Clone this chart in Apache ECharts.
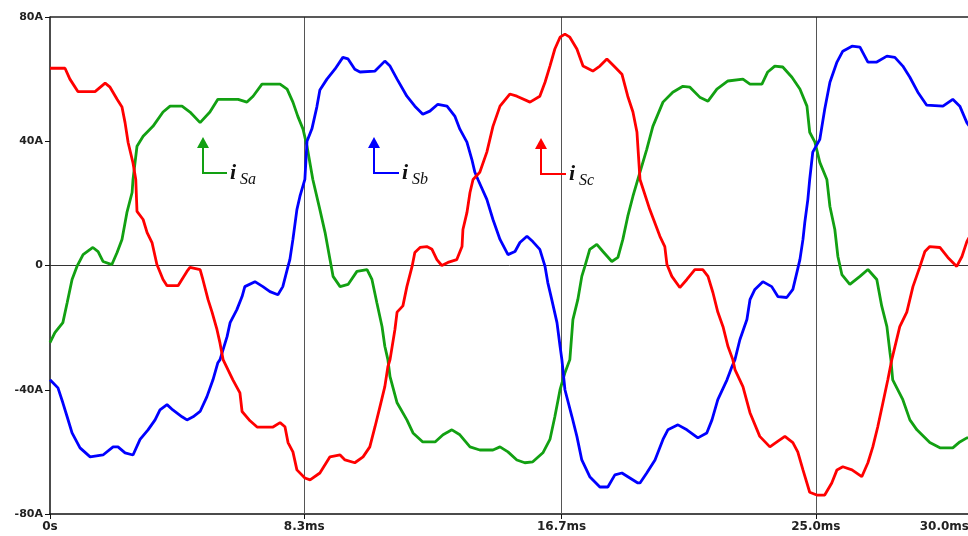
<!DOCTYPE html>
<html>
<head>
<meta charset="utf-8">
<script src="https://cdn.jsdelivr.net/npm/echarts@6/dist/echarts.min.js"></script>
<style>html,body{margin:0;padding:0;background:#fff}#c{width:968px;height:536px}</style>
</head>
<body>
<div id="c"></div>
<script>
// x ticks (ms) and labels
const timeTicks = [0, 8.3, 16.7, 25, 30];
const timeTickLabels = ['0s', '8.3ms', '16.7ms', '25.0ms', '30.0ms'];
const currentTicks = [-80, -40, 0, 40, 80];

// i_Sa (green): [time ms, current A]
const greenSa = [[0,-24.8],[0.16,-21.6],[0.42,-18.4],[0.56,-12],[0.72,-4.5],[0.88,-0.3],[1.08,3.5],[1.40,5.8],[1.57,4.5],[1.73,1.3],[2.02,0.3],[2.19,4.2],[2.35,8.4],[2.51,17],[2.68,23.5],[2.71,27.7],[2.84,38.4],[3.04,41.6],[3.36,44.8],[3.69,49.4],[3.92,51.3],[4.31,51.3],[4.57,49.4],[4.90,46],[5.22,49.4],[5.48,53.5],[6.14,53.5],[6.43,52.6],[6.63,54.5],[6.92,58.4],[7.51,58.4],[7.74,56.8],[7.93,52.6],[8.09,48],[8.26,43.9],[8.39,38.4],[8.58,27.7],[8.81,18],[8.98,10.6],[9.14,1.9],[9.24,-3.5],[9.47,-6.8],[9.73,-6.1],[10.02,-1.9],[10.35,-1.3],[10.51,-4.5],[10.67,-12],[10.84,-19.7],[10.93,-26],[11.03,-30.3],[11.10,-35.8],[11.33,-44.2],[11.65,-49.7],[11.85,-53.9],[12.17,-56.8],[12.57,-56.8],[12.83,-54.5],[13.12,-52.9],[13.38,-54.5],[13.71,-58.4],[14.03,-59.4],[14.46,-59.4],[14.69,-58.4],[14.95,-60],[15.24,-62.6],[15.50,-63.5],[15.76,-63.2],[16.09,-60.3],[16.32,-56],[16.48,-48.7],[16.65,-40],[16.81,-34.5],[16.97,-30.3],[17.07,-17.4],[17.23,-11],[17.36,-3.5],[17.46,-0.3],[17.62,5.2],[17.85,6.8],[18.05,4.5],[18.34,1.3],[18.54,2.6],[18.70,8.4],[18.86,15.8],[19.03,22.3],[19.19,27.7],[19.48,37.4],[19.68,44.8],[20.01,52.6],[20.33,55.8],[20.66,57.7],[20.89,57.4],[21.21,54.2],[21.48,52.9],[21.77,56.8],[22.13,59.4],[22.62,60],[22.85,58.4],[23.24,58.4],[23.43,62.3],[23.66,64.2],[23.92,63.9],[24.22,60.6],[24.48,56.8],[24.71,51.3],[24.80,42.9],[24.97,39.7],[25.13,33.2],[25.36,27.7],[25.46,19],[25.62,11.6],[25.72,2.9],[25.85,-2.9],[26.11,-6.1],[26.44,-3.5],[26.70,-1.3],[26.99,-4.5],[27.15,-13],[27.32,-19.7],[27.42,-28],[27.45,-30.3],[27.51,-36.8],[27.84,-43.2],[28.07,-49.7],[28.30,-52.9],[28.72,-57],[29.05,-58.7],[29.47,-58.7],[29.70,-56.8],[29.93,-55.5],[30,-55.5]];

// i_Sb (blue)
const blueSb = [[0,-36.8],[0.26,-39.4],[0.42,-44.2],[0.56,-48.7],[0.72,-53.9],[0.98,-58.7],[1.31,-61.6],[1.73,-61],[2.06,-58.4],[2.22,-58.4],[2.45,-60.3],[2.71,-61],[2.94,-56],[3.20,-52.9],[3.43,-49.7],[3.59,-46.5],[3.82,-44.8],[4.01,-46.5],[4.31,-48.7],[4.47,-49.7],[4.67,-48.7],[4.90,-47],[5.12,-42.3],[5.32,-36.8],[5.48,-31.3],[5.55,-30.3],[5.78,-22.9],[5.88,-18.4],[6.10,-14.2],[6.27,-10],[6.36,-6.8],[6.69,-5.2],[6.95,-6.8],[7.18,-8.4],[7.44,-9.4],[7.60,-6.8],[7.77,-0.3],[7.83,1.9],[7.93,8.4],[8.06,18],[8.16,22.3],[8.32,27.7],[8.39,40],[8.55,44],[8.71,51],[8.81,56.5],[9.04,60],[9.30,63.2],[9.56,67],[9.73,66.5],[9.95,63.2],[10.12,62.3],[10.61,62.6],[10.93,65.8],[11.10,64.2],[11.33,60],[11.65,54.5],[11.91,51.3],[12.17,48.7],[12.40,49.7],[12.66,51.9],[12.96,51.3],[13.22,48],[13.38,43.9],[13.61,39.7],[13.77,34.2],[13.87,30],[13.97,27.7],[14.26,21.3],[14.46,14.8],[14.69,8.4],[14.95,3.5],[15.18,4.5],[15.34,7.4],[15.57,9.4],[15.76,7.7],[15.99,5.2],[16.16,-0.3],[16.25,-5.5],[16.38,-11],[16.55,-18.4],[16.65,-26],[16.71,-30.3],[16.81,-40],[17.04,-48.7],[17.20,-55],[17.36,-62.6],[17.62,-68],[17.95,-71.3],[18.21,-71.3],[18.44,-67.4],[18.67,-66.8],[18.93,-68.4],[19.19,-70],[19.26,-70],[19.48,-66.8],[19.75,-62.6],[20.01,-56],[20.17,-52.9],[20.50,-51.3],[20.79,-52.9],[21.15,-55.5],[21.44,-53.9],[21.61,-49.7],[21.80,-43.2],[22.10,-36.8],[22.26,-32.6],[22.36,-30.3],[22.52,-23.9],[22.75,-17.4],[22.85,-11],[23.01,-7.7],[23.27,-5.2],[23.56,-6.8],[23.76,-10],[24.05,-10.3],[24.25,-7.7],[24.38,-2.3],[24.48,1.9],[24.58,8.4],[24.64,13.9],[24.74,21.3],[24.80,27.7],[24.90,36.5],[25.13,40.6],[25.29,50.3],[25.46,59],[25.69,65.5],[25.88,69],[26.18,70.6],[26.44,70.3],[26.70,65.5],[26.99,65.5],[27.32,67.4],[27.58,67],[27.84,64.2],[28.07,60.6],[28.33,55.8],[28.62,51.6],[29.15,51.3],[29.47,53.5],[29.70,51.3],[29.93,46],[30,45]];

// i_Sc (red)
const redSc = [[0,63.5],[0.49,63.5],[0.65,60],[0.91,56],[1.47,56],[1.80,58.7],[1.96,57.4],[2.19,53.5],[2.35,51],[2.45,46],[2.55,39.6],[2.71,33],[2.80,27.7],[2.84,17.4],[3.04,14.8],[3.17,10.6],[3.33,7.4],[3.49,0.3],[3.69,-4.5],[3.82,-6.5],[4.18,-6.5],[4.47,-1.9],[4.57,-0.6],[4.90,-1.3],[4.99,-4.5],[5.16,-11],[5.29,-15],[5.45,-20.6],[5.55,-25],[5.60,-25.5],[5.65,-30.3],[5.97,-36.8],[6.20,-41],[6.27,-47],[6.53,-50],[6.76,-52],[7.28,-52],[7.51,-50.6],[7.67,-51.9],[7.77,-57],[7.93,-60],[8.06,-65.8],[8.32,-68.4],[8.49,-69],[8.81,-66.8],[9.14,-61.6],[9.47,-61],[9.63,-62.6],[9.95,-63.5],[10.22,-61.6],[10.44,-58.4],[10.61,-51.9],[10.77,-45.5],[10.93,-39],[11.03,-32.6],[11.10,-30.3],[11.26,-20.6],[11.33,-15],[11.52,-13],[11.65,-6.8],[11.82,-0.3],[11.91,4.2],[12.08,5.8],[12.30,6.1],[12.47,5.2],[12.63,1.9],[12.79,0],[12.99,1],[13.28,1.9],[13.45,6.1],[13.48,11.6],[13.61,17],[13.71,23.5],[13.81,27.7],[14.03,30],[14.26,36.5],[14.46,44.8],[14.69,51.3],[15.01,55.2],[15.24,54.5],[15.67,52.6],[15.99,54.5],[16.16,59],[16.32,64.2],[16.48,69.7],[16.65,73.5],[16.81,74.5],[16.97,73.5],[17.20,69.7],[17.40,64.2],[17.72,62.6],[17.95,64.2],[18.18,66.5],[18.44,63.9],[18.67,61.6],[18.86,54.5],[19.03,49.4],[19.16,43],[19.26,27.7],[19.58,18],[19.91,9.4],[20.07,6.1],[20.14,0.3],[20.30,-3.5],[20.56,-7.1],[20.79,-4.5],[21.05,-1.3],[21.31,-1.3],[21.48,-3.5],[21.64,-8.7],[21.80,-15],[21.97,-19.7],[22.13,-26],[22.29,-30.3],[22.36,-33.5],[22.62,-39],[22.85,-47.4],[23.17,-55],[23.50,-58.4],[23.73,-56.8],[23.99,-55],[24.25,-57],[24.41,-60],[24.58,-65.8],[24.80,-73],[25.03,-73.9],[25.29,-73.9],[25.52,-70],[25.69,-65.8],[25.88,-64.8],[26.18,-65.8],[26.50,-68],[26.70,-63.5],[26.86,-58.4],[27.02,-52],[27.19,-44.2],[27.35,-36.8],[27.48,-30.3],[27.74,-19.7],[27.97,-15],[28.17,-6.8],[28.39,-0.6],[28.56,4.5],[28.72,6.1],[29.05,5.8],[29.31,2.6],[29.60,-0.3],[29.77,2.9],[29.93,7.7],[30,9]];

const seriesNames = ['iSa', 'iSb', 'iSc'];
const seriesColors = ['#12a012', '#0000ff', '#ff0000'];

const chart = echarts.init(document.getElementById('c'), null, {renderer: 'canvas'});

const labelFont = {fontFamily: 'DejaVu Sans', fontWeight: 'bold', color: '#222'};

function arrowGraphic(color, tipX, tipY, cornerY, endX, textX, sub) {
  return [
    {type: 'polyline', shape: {points: [[tipX, tipY + 8], [tipX, cornerY], [endX, cornerY]]},
     style: {stroke: color, lineWidth: 2, fill: null}, z: 100},
    {type: 'polygon', shape: {points: [[tipX, tipY], [tipX - 6, tipY + 11], [tipX + 6, tipY + 11]]},
     style: {fill: color}, z: 100},
    {type: 'text', x: textX, y: cornerY, style: {text: 'i', font: 'italic bold 22px "Liberation Serif"', fill: '#111', verticalAlign: 'middle', align: 'left'}, z: 100},
    {type: 'text', x: textX + 10, y: cornerY + 7, style: {text: sub, font: 'italic 16px "Liberation Serif"', fill: '#111', verticalAlign: 'middle', align: 'left'}, z: 100}
  ];
}

const vLines = timeTicks.slice(1, 4).map(v => ({xAxis: v, lineStyle: {color: '#555', width: 1, type: 'solid'}}));
const hLines = [
  {yAxis: 0, lineStyle: {color: '#333', width: 1, type: 'solid'}},
  {yAxis: 80, lineStyle: {color: '#222', width: 1.5, type: 'solid'}}
];

chart.setOption({
  animation: false,
  backgroundColor: '#fff',
  grid: {left: 50, top: 17, width: 919, bottom: 22, containLabel: false, outerBoundsMode: 'none'},
  xAxis: {
    type: 'value', min: 0, max: 30,
    axisLine: {onZero: false, lineStyle: {color: '#111', width: 1.5}},
    axisTick: {show: true, customValues: timeTicks, length: 5, lineStyle: {color: '#111'}},
    axisLabel: {
      customValues: timeTicks,
      margin: 7, fontSize: 12, ...labelFont,
      alignMaxLabel: 'right',
      formatter: v => { const i = timeTicks.findIndex(t => Math.abs(t - v) < 0.01); return i >= 0 ? timeTickLabels[i] : ''; }
    },
    splitLine: {show: false}
  },
  yAxis: {
    type: 'value', min: -80, max: 80, interval: 40,
    axisLine: {show: true, lineStyle: {color: '#111', width: 1.5}},
    axisTick: {show: true, length: 5, lineStyle: {color: '#111'}},
    axisLabel: {margin: 7, fontSize: 11, ...labelFont, formatter: v => v === 0 ? '0' : v + 'A'},
    splitLine: {show: false}
  },
  series: [
    {name: seriesNames[0], type: 'line', data: greenSa, showSymbol: false, symbol: 'none',
     lineStyle: {color: seriesColors[0], width: 2.8}, z: 3,
     markLine: {silent: true, symbol: 'none', label: {show: false}, data: vLines.concat(hLines), z: 1}},
    {name: seriesNames[1], type: 'line', data: blueSb, showSymbol: false, symbol: 'none',
     lineStyle: {color: seriesColors[1], width: 2.8}, z: 4},
    {name: seriesNames[2], type: 'line', data: redSc, showSymbol: false, symbol: 'none',
     lineStyle: {color: seriesColors[2], width: 2.8}, z: 5}
  ],
  graphic: [].concat(
    arrowGraphic(seriesColors[0], 203, 137, 173, 227, 230, 'Sa'),
    arrowGraphic(seriesColors[1], 374, 137, 173, 399, 402, 'Sb'),
    arrowGraphic(seriesColors[2], 541, 138, 174, 566, 569, 'Sc')
  )
});
</script>
</body>
</html>
